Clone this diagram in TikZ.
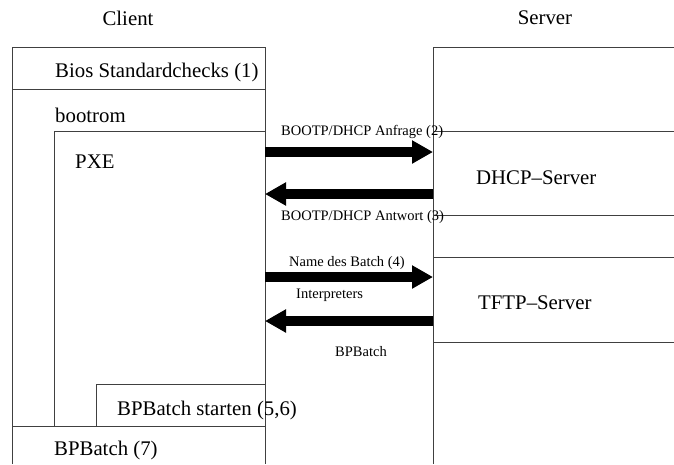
\documentclass[tikz,border=0pt]{standalone}
\usepackage{fontspec}
\setmainfont{Liberation Serif}
\usetikzlibrary{arrows.meta}
\begin{document}
\begin{tikzpicture}[x=1pt,y=-1pt,
  frame/.style={draw=black!75,line width=1pt},
  big/.style={font=\fontsize{20.8}{24}\selectfont,anchor=west,inner sep=0pt},
  small/.style={font=\fontsize{14.5}{17}\selectfont,anchor=west,inner sep=0pt},
  head/.style={font=\fontsize{20.8}{24}\selectfont,inner sep=0pt},
  fat/.style={line width=10pt,-{Triangle[length=21pt,width=22pt]}}]
\useasboundingbox (0,0) rectangle (674,464);
% titles
\node[head] (client) at (128,18) {Client};
\node[head] (server) at (545,18) {Server};
% client frames
\draw[frame] (12,464) -- (12,47) -- (265,47) -- (265,464);
\draw[frame] (12,89) -- (265,89);
\draw[frame] (54,426) -- (54,131) -- (265,131);
\draw[frame] (96,426) -- (96,384) -- (265,384);
\draw[frame] (12,426) -- (265,426);
% server frames
\draw[frame] (674,47) -- (433,47) -- (433,464);
\draw[frame] (433,131) -- (674,131);
\draw[frame] (433,215) -- (674,215);
\draw[frame] (433,257) -- (674,257);
\draw[frame] (433,342) -- (674,342);
% client texts
\node[big] (bios) at (55,72) {Bios Standardchecks (1)};
\node[big] (bootrom) at (55,115) {bootrom};
\node[big] (pxe) at (75,162) {PXE};
\node[big] (bpstart) at (117,410) {BPBatch starten (5,6)};
\node[big] (bp7) at (54,450) {BPBatch (7)};
% server texts
\node[big] (dhcp) at (476,178) {DHCP--Server};
\node[big] (tftp) at (478,303) {TFTP--Server};
% arrow ends
\coordinate (a1s) at (265,152); \coordinate (a1e) at (433,152);
\coordinate (a2s) at (433,194); \coordinate (a2e) at (265,194);
\coordinate (a3s) at (265,277); \coordinate (a3e) at (433,277);
\coordinate (a4s) at (433,321); \coordinate (a4e) at (265,321);
\draw[fat] (a1s) -- (a1e);
\draw[fat] (a2s) -- (a2e);
\draw[fat] (a3s) -- (a3e);
\draw[fat] (a4s) -- (a4e);
% arrow labels
\node[small] (l1) at (281,132) {BOOTP/DHCP Anfrage (2)};
\node[small] (l2) at (281,217) {BOOTP/DHCP Antwort (3)};
\node[small] (l3) at (289,263) {Name des Batch (4)};
\node[small] (l4) at (296,295) {Interpreters};
\node[small] (l5) at (335,352) {BPBatch};
\end{tikzpicture}
\end{document}
